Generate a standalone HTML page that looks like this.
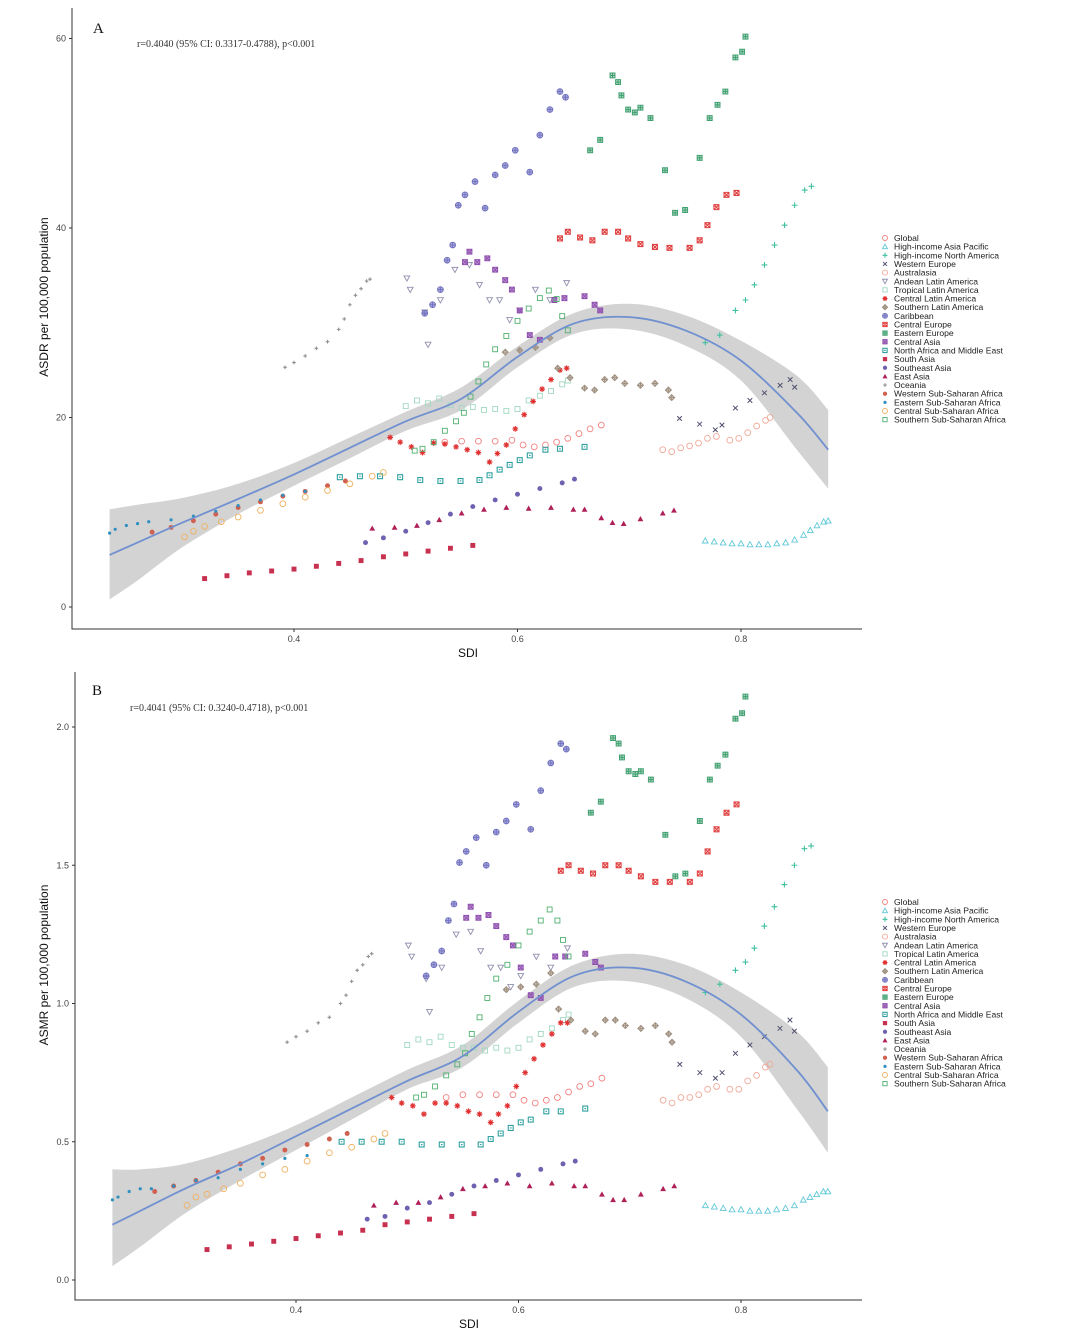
<!DOCTYPE html>
<html><head><meta charset="utf-8">
<style>
html,body{margin:0;padding:0;background:#fff;}
svg{display:block;}
text{font-family:"Liberation Sans",sans-serif;}
.serif{font-family:"Liberation Serif",serif;}
</style></head>
<body>
<svg id="chart" width="1080" height="1331" viewBox="0 0 1080 1331" xmlns="http://www.w3.org/2000/svg"></svg>
<script>
const names = ["Global","High-income Asia Pacific","High-income North America","Western Europe","Australasia","Andean Latin America","Tropical Latin America","Central Latin America","Southern Latin America","Caribbean","Central Europe","Eastern Europe","Central Asia","North Africa and Middle East","South Asia","Southeast Asia","East Asia","Oceania","Western Sub-Saharan Africa","Eastern Sub-Saharan Africa","Central Sub-Saharan Africa","Southern Sub-Saharan Africa"];
const colors = ["#f08080","#60c8d8","#40c0a0","#505070","#f0a898","#9090b0","#a0d8c0","#e03030","#a09080","#7070c0","#e04040","#40a070","#9050b0","#30a0a0","#c83050","#7060b0","#b02058","#909090","#d06050","#3090c0","#f0b060","#50b070"];
const shapes = ["circleOpen","triOpen","plus","cross","circleOpen","triDown","squareOpen","asterisk","diamond","circlePlus","squareX","squarePlus","squareXFill","squareDot","squareFill","circleFill","triFill","dot","circleFill","dotSmall","circleOpen","squareOpen"];

const sdi = [
 [.535,.55,.565,.58,.595,.605,.615,.625,.635,.645,.655,.665,.675],
 [.768,.776,.784,.792,.80,.808,.816,.824,.832,.84,.848,.856,.862,.868,.874,.878],
 [.768,.781,.795,.804,.812,.821,.830,.839,.848,.857,.863],
 [.745,.763,.777,.783,.795,.808,.821,.835,.844,.848],
 [.730,.738,.746,.754,.762,.770,.778,.790,.798,.806,.814,.822,.826],
 [.501,.504,.517,.520,.531,.544,.557,.566,.575,.584,.593,.602,.616,.629,.644],
 [.50,.51,.52,.53,.54,.55,.56,.57,.58,.59,.60,.61,.62,.63,.64,.645],
 [.486,.495,.505,.515,.525,.535,.545,.555,.565,.575,.582,.59,.598,.606,.614,.622,.630,.638,.644],
 [.589,.602,.616,.629,.636,.647,.660,.669,.678,.687,.696,.710,.723,.735,.738],
 [.517,.524,.531,.537,.542,.547,.553,.562,.571,.580,.589,.598,.611,.620,.629,.638,.643],
 [.638,.645,.656,.667,.678,.690,.699,.710,.723,.736,.754,.763,.770,.778,.787,.796],
 [.665,.674,.685,.690,.693,.699,.705,.710,.719,.732,.741,.750,.763,.772,.779,.786,.795,.801,.804],
 [.553,.557,.564,.573,.580,.589,.595,.602,.611,.620,.633,.642,.660,.669,.674],
 [.441,.459,.477,.495,.513,.531,.549,.566,.575,.584,.593,.602,.611,.625,.638,.660],
 [.32,.34,.36,.38,.40,.42,.44,.46,.48,.50,.52,.54,.56],
 [.464,.48,.50,.52,.54,.56,.58,.60,.62,.64,.651],
 [.470,.49,.51,.53,.55,.57,.59,.61,.63,.65,.66,.675,.685,.695,.71,.73,.74],
 [.392,.40,.41,.42,.43,.44,.445,.45,.455,.46,.465,.468],
 [.273,.29,.31,.33,.35,.37,.39,.41,.43,.446],
 [.235,.24,.25,.26,.27,.29,.31,.33,.35,.37,.39,.41],
 [.302,.31,.32,.335,.35,.37,.39,.41,.43,.45,.47,.48],
 [.508,.515,.525,.535,.545,.552,.558,.565,.572,.58,.59,.60,.61,.62,.628,.635,.64,.645]
];
const asdr = [
 [17.4,17.5,17.5,17.5,17.6,17.1,16.9,17.1,17.4,17.8,18.3,18.8,19.2],
 [7.0,6.9,6.8,6.7,6.7,6.6,6.6,6.6,6.7,6.8,7.1,7.6,8.1,8.6,9.0,9.1],
 [27.9,28.7,31.3,32.4,34,36.1,38.2,40.3,42.4,44,44.4],
 [19.9,19.3,18.7,19.2,21,21.8,22.6,23.4,24,23.2],
 [16.6,16.4,16.8,17.0,17.3,17.8,18.0,17.6,17.8,18.4,19.1,19.7,20.0],
 [34.7,33.5,31.1,27.7,32.4,35.6,36.1,34,32.4,32.4,30.3,31.3,33.5,32.4,34.2],
 [21.2,21.8,21.5,22.0,21.3,21.0,21.1,20.8,20.9,20.7,20.9,21.8,22.3,22.8,23.5,23.9],
 [17.9,17.4,16.9,16.3,17.3,17.2,16.9,16.6,16.3,15.3,16.2,17.1,18.8,20.3,21.7,23.0,24.0,25.0,25.2],
 [26.9,27.1,27.4,28.4,25.2,24.2,23.1,22.9,24,24.2,23.6,23.4,23.6,22.9,22.1],
 [31,31.9,33.5,36.6,38.2,42.4,43.5,44.9,42.1,45.6,46.6,48.2,45.9,49.8,52.5,54.4,53.8],
 [38.9,39.6,39,38.7,39.6,39.6,38.9,38.3,38,37.9,37.9,38.7,40.3,42.2,43.5,43.7],
 [48.2,49.3,56.1,55.4,54,52.5,52.2,52.7,51.6,46.1,41.6,41.9,47.4,51.6,53,54.4,58,58.6,60.2],
 [36.4,37.5,36.4,36.8,35.6,34.5,33.5,31.3,28.7,28.2,32.4,32.6,32.8,31.9,31.3],
 [13.7,13.8,13.8,13.7,13.4,13.3,13.3,13.4,13.9,14.5,15,15.5,16,16.6,16.7,16.9],
 [3.0,3.3,3.6,3.8,4.0,4.3,4.6,4.9,5.3,5.6,5.9,6.2,6.5],
 [6.8,7.3,8.0,8.9,9.8,10.6,11.3,11.9,12.5,13.1,13.5],
 [8.3,8.4,8.6,9.2,9.9,10.3,10.5,10.4,10.5,10.3,10.3,9.4,8.9,8.8,9.3,9.9,10.2],
 [25.3,25.8,26.5,27.3,28.0,29.3,30.4,31.9,32.9,33.6,34.4,34.6],
 [7.9,8.4,9.1,9.8,10.5,11.1,11.7,12.2,12.8,13.3],
 [7.8,8.2,8.6,8.8,9.0,9.2,9.6,10.1,10.7,11.3,11.8,12.2],
 [7.4,8.0,8.5,9.0,9.5,10.2,10.9,11.6,12.3,13.0,13.8,14.2],
 [16.5,16.7,17.4,18.6,19.6,20.5,22.2,23.8,25.6,27.2,28.6,30.2,31.5,32.6,33.4,32.5,30.7,29.2]
];
const asmr = [
 [.66,.67,.67,.67,.67,.65,.64,.65,.66,.68,.70,.71,.73],
 [.27,.265,.26,.255,.255,.25,.25,.25,.255,.26,.27,.29,.30,.31,.32,.32],
 [1.04,1.07,1.12,1.15,1.20,1.28,1.35,1.43,1.50,1.56,1.57],
 [.78,.75,.73,.75,.82,.85,.88,.91,.94,.90],
 [.65,.64,.66,.66,.67,.69,.70,.69,.69,.72,.74,.77,.78],
 [1.21,1.17,1.09,.97,1.13,1.25,1.26,1.19,1.13,1.13,1.06,1.10,1.17,1.13,1.20],
 [.85,.87,.86,.88,.85,.84,.84,.83,.84,.83,.84,.87,.89,.91,.94,.96],
 [.66,.64,.63,.60,.64,.64,.63,.61,.60,.57,.60,.63,.70,.75,.80,.85,.89,.93,.93],
 [1.05,1.06,1.07,1.11,.98,.94,.90,.89,.94,.94,.92,.91,.92,.89,.86],
 [1.10,1.14,1.19,1.30,1.36,1.51,1.55,1.60,1.50,1.62,1.66,1.72,1.63,1.77,1.87,1.94,1.92],
 [1.48,1.50,1.48,1.47,1.50,1.50,1.48,1.46,1.44,1.44,1.44,1.47,1.55,1.63,1.69,1.72],
 [1.69,1.73,1.96,1.94,1.89,1.84,1.83,1.84,1.81,1.61,1.46,1.47,1.66,1.81,1.86,1.90,2.03,2.05,2.11],
 [1.31,1.35,1.31,1.32,1.28,1.24,1.21,1.13,1.03,1.02,1.17,1.17,1.18,1.15,1.13],
 [.50,.50,.50,.50,.49,.49,.49,.49,.51,.53,.55,.57,.58,.61,.61,.62],
 [.11,.12,.13,.14,.15,.16,.17,.18,.20,.21,.22,.23,.24],
 [.22,.23,.26,.28,.31,.34,.36,.38,.40,.42,.43],
 [.27,.28,.28,.30,.33,.34,.35,.34,.35,.34,.34,.31,.29,.29,.31,.33,.34],
 [.86,.88,.90,.93,.95,1.00,1.03,1.08,1.12,1.14,1.17,1.18],
 [.32,.34,.36,.39,.42,.44,.47,.49,.51,.53],
 [.29,.30,.32,.33,.33,.34,.36,.37,.40,.42,.44,.45],
 [.27,.30,.31,.33,.35,.38,.40,.43,.46,.48,.51,.53],
 [.66,.67,.70,.74,.78,.82,.89,.95,1.02,1.09,1.14,1.21,1.26,1.30,1.34,1.30,1.23,1.17]
];
const fitS = [.235,.26,.30,.35,.40,.45,.50,.55,.60,.65,.70,.75,.80,.85,.878];
const fitA = [5.5,6.8,8.9,11.4,14.0,16.8,19.6,22.0,26.4,29.9,30.6,29.2,26.0,20.5,16.6];
const loA = [0.8,2.8,6.3,9.8,12.8,15.7,18.6,20.8,25.3,28.8,29.3,27.6,23.9,16.6,12.5];
const hiA = [10.3,10.8,11.5,13.0,15.2,17.9,20.6,23.2,27.5,31.0,32.0,30.8,28.1,24.4,20.8];
const fitB = [.20,.25,.33,.42,.52,.62,.72,.81,.97,1.10,1.13,1.08,.96,.76,.61];
const loB = [.05,.12,.24,.36,.47,.58,.69,.77,.93,1.06,1.08,1.02,.88,.62,.46];
const hiB = [.40,.40,.42,.48,.56,.66,.76,.85,1.01,1.14,1.18,1.14,1.04,.90,.77];
const xTicks = [0.4,0.6,0.8];
const yTicksA = [0,20,40,60];
const yTicksB = [0.0,0.5,1.0,1.5,2.0];
const yLabelsB = ["0.0","0.5","1.0","1.5","2.0"];

const NS = "http://www.w3.org/2000/svg";
const svg = document.getElementById("chart");
function mk(tag, attrs, parent){
  const e = document.createElementNS(NS, tag);
  for (const k in attrs) e.setAttribute(k, attrs[k]);
  (parent||svg).appendChild(e); return e;
}
// Catmull-Rom smooth path through points
function smooth(pts, move){
  let d = (move?"M":"L")+pts[0][0].toFixed(1)+" "+pts[0][1].toFixed(1);
  for (let i=0;i<pts.length-1;i++){
    const p0=pts[Math.max(0,i-1)], p1=pts[i], p2=pts[i+1], p3=pts[Math.min(pts.length-1,i+2)];
    const c1=[p1[0]+(p2[0]-p0[0])/6, p1[1]+(p2[1]-p0[1])/6];
    const c2=[p2[0]-(p3[0]-p1[0])/6, p2[1]-(p3[1]-p1[1])/6];
    d += `C${c1[0].toFixed(1)} ${c1[1].toFixed(1)} ${c2[0].toFixed(1)} ${c2[1].toFixed(1)} ${p2[0].toFixed(1)} ${p2[1].toFixed(1)}`;
  }
  return d;
}
function marker(g, shape, x, y, c, r){
  r = r||2.9; let e;
  const sw = 0.9;
  switch(shape){
    case "circleOpen": e=mk("circle",{cx:x,cy:y,r:r,fill:"none",stroke:c,"stroke-width":sw},g); break;
    case "circleFill": e=mk("circle",{cx:x,cy:y,r:r*0.85,fill:c},g); break;
    case "dot": e=mk("path",{d:`M${x-1.8} ${y}H${x+1.8}M${x} ${y-1.8}V${y+1.8}`,stroke:c,"stroke-width":1.1},g); break;
    case "dotSmall": e=mk("circle",{cx:x,cy:y,r:1.6,fill:c},g); break;
    case "triOpen": e=mk("path",{d:`M${x} ${y-r}L${x+r} ${y+r*0.8}L${x-r} ${y+r*0.8}Z`,fill:"none",stroke:c,"stroke-width":sw},g); break;
    case "triDown": e=mk("path",{d:`M${x} ${y+r}L${x+r} ${y-r*0.8}L${x-r} ${y-r*0.8}Z`,fill:"none",stroke:c,"stroke-width":sw},g); break;
    case "triFill": e=mk("path",{d:`M${x} ${y-r}L${x+r} ${y+r*0.8}L${x-r} ${y+r*0.8}Z`,fill:c},g); break;
    case "plus": e=mk("path",{d:`M${x-r} ${y}H${x+r}M${x} ${y-r}V${y+r}`,stroke:c,"stroke-width":1.1},g); break;
    case "cross": e=mk("path",{d:`M${x-r*.8} ${y-r*.8}L${x+r*.8} ${y+r*.8}M${x+r*.8} ${y-r*.8}L${x-r*.8} ${y+r*.8}`,stroke:c,"stroke-width":1},g); break;
    case "asterisk": e=mk("path",{d:`M${x-r} ${y}H${x+r}M${x} ${y-r}V${y+r}M${x-r*.7} ${y-r*.7}L${x+r*.7} ${y+r*.7}M${x+r*.7} ${y-r*.7}L${x-r*.7} ${y+r*.7}`,stroke:c,"stroke-width":1.1},g); break;
    case "diamond": e=mk("path",{d:`M${x} ${y-r}L${x+r} ${y}L${x} ${y+r}L${x-r} ${y}ZM${x-r} ${y}H${x+r}M${x} ${y-r}V${y+r}`,fill:"none",stroke:c,"stroke-width":1.1},g); break;
    case "circlePlus": e=mk("path",{d:`M${x-r} ${y}a${r} ${r} 0 1 0 ${2*r} 0a${r} ${r} 0 1 0 ${-2*r} 0ZM${x-r} ${y}H${x+r}M${x} ${y-r}V${y+r}`,fill:c,"fill-opacity":0.6,stroke:c,"stroke-width":0.9},g); break;
    case "squareOpen": e=mk("rect",{x:x-r*.85,y:y-r*.85,width:r*1.7,height:r*1.7,fill:"none",stroke:c,"stroke-width":sw},g); break;
    case "squareFill": e=mk("rect",{x:x-r*.85,y:y-r*.85,width:r*1.7,height:r*1.7,fill:c},g); break;
    case "squareDot": e=mk("path",{d:`M${x-r*.85} ${y-r*.85}h${r*1.7}v${r*1.7}h${-r*1.7}ZM${x-0.8} ${y}h1.6`,fill:"none",stroke:c,"stroke-width":1.1},g); break;
    case "squareX": e=mk("path",{d:`M${x-r*.85} ${y-r*.85}h${r*1.7}v${r*1.7}h${-r*1.7}ZM${x-r*.85} ${y-r*.85}l${r*1.7} ${r*1.7}M${x+r*.85} ${y-r*.85}l${-r*1.7} ${r*1.7}`,fill:"none",stroke:c,"stroke-width":1.1},g); break;
    case "squareXFill": e=mk("path",{d:`M${x-r*.85} ${y-r*.85}h${r*1.7}v${r*1.7}h${-r*1.7}ZM${x-r*.85} ${y-r*.85}l${r*1.7} ${r*1.7}M${x+r*.85} ${y-r*.85}l${-r*1.7} ${r*1.7}`,fill:c,"fill-opacity":0.55,stroke:c,"stroke-width":1},g); break;
    case "squarePlus": e=mk("path",{d:`M${x-r*.85} ${y-r*.85}h${r*1.7}v${r*1.7}h${-r*1.7}ZM${x-r*.85} ${y}h${r*1.7}M${x} ${y-r*.85}v${r*1.7}`,fill:c,"fill-opacity":0.45,stroke:c,"stroke-width":1},g); break;
  }
  return e;
}

function panel(cfg){
  const P = mk("g",{});
  
  
  const xs = s => cfg.x04 + (s-0.4)*cfg.pxPerSdi;
  const ys = v => cfg.y0 - v*cfg.pxPerVal;
  const hiPts = fitS.map((s,i)=>[xs(s),ys(cfg.hi[i])]);
  const loPts = fitS.map((s,i)=>[xs(s),ys(cfg.lo[i])]).reverse();
  const band = mk("path",{d:smooth(hiPts,true)+smooth(loPts,false)+"Z",fill:"#c8c8c8","fill-opacity":0.8},P);
  
  
  names.forEach((n,k)=>{
    const g = mk("g",{},P);
    
    
    sdi[k].forEach((s,i)=>{ marker(g, shapes[k], xs(s), ys(cfg.vals[k][i]), colors[k]); });
  });
  const fitPts = fitS.map((s,i)=>[xs(s),ys(cfg.fit[i])]);
  const fl = mk("path",{d:smooth(fitPts,true),fill:"none",stroke:"#7090d0","stroke-width":1.8,"stroke-linejoin":"round"},P);
  
  
  const ax = mk("path",{d:`M${cfg.ax} ${cfg.top}V${cfg.bottom}H862`,fill:"none",stroke:"#333","stroke-width":1},P);
  
  
  xTicks.forEach(t=>{
    mk("path",{d:`M${xs(t)} ${cfg.bottom}v3`,stroke:"#333"},P);
    const tx = mk("text",{x:xs(t),y:cfg.bottom+13,"font-size":9,fill:"#444","text-anchor":"middle"},P);
    tx.textContent = t.toFixed(1);
    
    
  });
  cfg.yt.forEach((t,i)=>{
    mk("path",{d:`M${cfg.ax-3} ${ys(t)}h3`,stroke:"#333"},P);
    const tx = mk("text",{x:cfg.ax-6,y:ys(t)+3,"font-size":9,fill:"#444","text-anchor":"end"},P);
    tx.textContent = cfg.yl[i];
    
    
  });
  const xt = mk("text",{x:cfg.sdiX,y:cfg.bottom+28,"font-size":12,fill:"#111","text-anchor":"middle"},P);
  xt.textContent="SDI";
  
  
  const yt = mk("text",{x:0,y:0,"font-size":12,fill:"#111","text-anchor":"middle",transform:`translate(48 ${cfg.yTitleY}) rotate(-90)`},P);
  yt.textContent=cfg.yTitle;
  
  
  const lt = mk("text",{x:cfg.letX,y:cfg.letY,"font-size":15,fill:"#111",class:"serif"},P);
  lt.textContent=cfg.letter;
  
  
  const st = mk("text",{x:cfg.statX,y:cfg.statY,"font-size":10,fill:"#333",class:"serif"},P);
  st.textContent=cfg.stat;
  
  
  const lg = mk("g",{},P);
  
  
  names.forEach((n,k)=>{
    const y = cfg.legY + k*8.65;
    const eg = mk("g",{},lg);
    
    
    marker(eg, shapes[k], 885, y, colors[k], 2.5);
    const tx = mk("text",{x:894,y:y+3,"font-size":8.6,fill:"#222"},eg);
    tx.textContent = n;
  });
}
panel({id:"asdr",x04:294,pxPerSdi:1117.5,y0:607,pxPerVal:9.475,ax:72,top:8,bottom:629,vals:asdr,fit:fitA,lo:loA,hi:hiA,yt:yTicksA,yl:yTicksA.map(String),sdiX:468,yTitle:"ASDR per 100,000 population",yTitleY:297,letter:"A",letX:93,letY:33,stat:"r=0.4040 (95% CI: 0.3317-0.4788), p<0.001",statX:137,statY:47,legY:238});
panel({id:"asmr",x04:296,pxPerSdi:1112.5,y0:1280,pxPerVal:276.5,ax:75,top:672,bottom:1300,vals:asmr,fit:fitB,lo:loB,hi:hiB,yt:yTicksB,yl:yLabelsB,sdiX:469,yTitle:"ASMR per 100,000 population",yTitleY:965,letter:"B",letX:92,letY:695,stat:"r=0.4041 (95% CI: 0.3240-0.4718), p<0.001",statX:130,statY:711,legY:902});
</script>
</body></html>
